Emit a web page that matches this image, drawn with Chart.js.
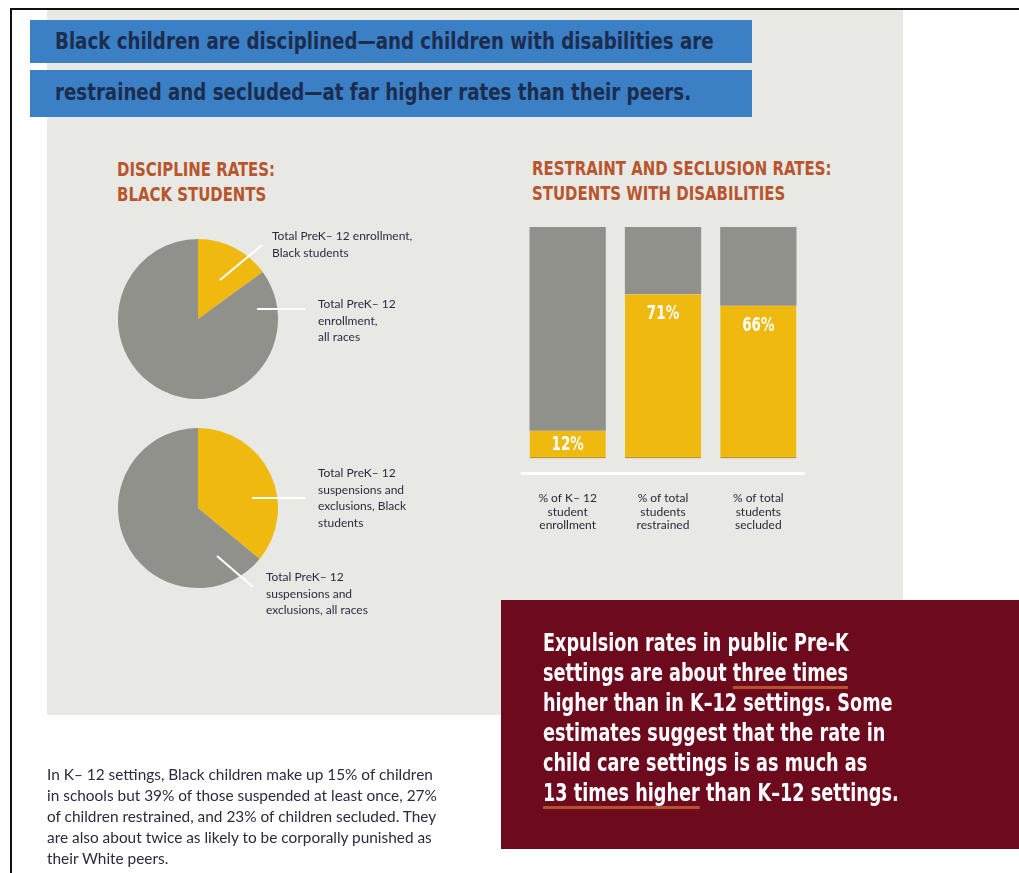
<!DOCTYPE html>
<html>
<head>
<meta charset="utf-8">
<script src="https://cdn.jsdelivr.net/npm/chart.js@4/dist/chart.umd.min.js"></script>
<style>
    body { margin: 0; width: 1019px; height: 873px; overflow: hidden; position: relative; background: #fff; }
    .abs { position: absolute; }
    .narrow { font-family: "Liberation Sans Narrow", "DejaVu Sans Condensed", sans-serif; font-weight: 700; }
    .squeeze { display: inline-block; transform-origin: 0 0; white-space: nowrap; }
    .small { font-family: Lato, "Noto Sans", sans-serif; color: #2c2a3f; }
    .banner { left: 30px; width: 697px; padding-left: 25px; background: #3b7fc4; color: #1b2d4f; font-size: 23px; white-space: nowrap; }
    .heading { color: #b9552c; font-size: 20px; line-height: 25px; white-space: nowrap; }
    .pie-label { font-size: 12px; line-height: 16.5px; white-space: nowrap; }
    .u { text-decoration: underline; text-decoration-color: #b4532b; text-decoration-thickness: 3px; text-underline-offset: 5px; }
</style>
</head>
<body>
<div class="abs" style="left:10px;top:8px;width:1009px;height:2px;background:#111"></div>
<div class="abs" style="left:10px;top:8px;width:2px;height:865px;background:#111"></div>
<div class="abs" style="left:47px;top:10px;width:856px;height:705px;background:#e8e9e5"></div>

<div class="abs narrow banner" style="top:20px;height:43px;line-height:43px"><span class="squeeze" style="transform:scaleX(0.88)">Black children are disciplined—and children with disabilities are</span></div>
<div class="abs narrow banner" style="top:70px;height:47px;line-height:45px"><span class="squeeze" style="transform:scaleX(0.88)">restrained and secluded—at far higher rates than their peers.</span></div>

<div class="abs narrow heading" style="left:117px;top:157px"><span class="squeeze" style="transform:scaleX(0.83)">DISCIPLINE RATES:<br>BLACK STUDENTS</span></div>
<div class="abs narrow heading" style="left:532px;top:156px"><span class="squeeze" style="transform:scaleX(0.83)">RESTRAINT AND SECLUSION RATES:<br>STUDENTS WITH DISABILITIES</span></div>

<canvas id="pie-enrollment" class="abs" width="160" height="160" style="left:118px;top:239px"></canvas>
<canvas id="pie-discipline" class="abs" width="160" height="160" style="left:118px;top:428px"></canvas>
<canvas id="bar-restraint" class="abs" width="320" height="342" style="left:505px;top:215px"></canvas>

<svg class="abs" width="1019" height="873" style="left:0;top:0" stroke="#fff" stroke-width="2">
    <line x1="220" y1="280" x2="262" y2="245"/>
    <line x1="257" y1="309" x2="305" y2="309"/>
    <line x1="252" y1="498" x2="305" y2="498"/>
    <line x1="217" y1="556" x2="253" y2="587"/>
</svg>

<div class="abs small pie-label" style="left:272px;top:228px">Total PreK– 12 enrollment,<br>Black students</div>
<div class="abs small pie-label" style="left:318px;top:296px">Total PreK– 12<br>enrollment,<br>all races</div>
<div class="abs small pie-label" style="left:318px;top:465px">Total PreK– 12<br>suspensions and<br>exclusions, Black<br>students</div>
<div class="abs small pie-label" style="left:266px;top:569px">Total PreK– 12<br>suspensions and<br>exclusions, all races</div>

<div class="abs" style="left:501px;top:600px;width:518px;height:249px;background:#6e0a1e"></div>
<div class="abs narrow" style="left:543px;top:628px;color:#fff;font-size:25px;line-height:30px">
    <span class="squeeze" style="transform:scaleX(0.785)">Expulsion rates in public Pre-K<br>
    settings are about <span class="u">three times</span><br>
    higher than in K–12 settings. Some<br>
    estimates suggest that the rate in<br>
    child care settings is as much as<br>
    <span class="u">13 times higher</span> than K–12 settings.</span>
</div>

<div class="abs small" style="left:47px;top:764px;font-size:15.4px;line-height:21px;white-space:nowrap">
    In K– 12 settings, Black children make up 15% of children<br>
    in schools but 39% of those suspended at least once, 27%<br>
    of children restrained, and 23% of children secluded. They<br>
    are also about twice as likely to be corporally punished as<br>
    their White peers.
</div>

<script>
var colorYellow = '#f0b90f';
var colorGray = '#8f918a';

// pie charts: Black students share vs. all races
var enrollmentLabels = ['Total PreK– 12 enrollment, Black students', 'Total PreK– 12 enrollment, all races'];
var enrollmentValues = [15, 85];
var disciplineLabels = ['Total PreK– 12 suspensions and exclusions, Black students', 'Total PreK– 12 suspensions and exclusions, all races'];
var disciplineValues = [36, 64];

// stacked bars: students with disabilities
var barCategories = [
    ['% of K– 12', 'student', 'enrollment'],
    ['% of total', 'students', 'restrained'],
    ['% of total', 'students', 'secluded']
];
var barShares = [12, 71, 66];
var barRest = [88, 29, 34];
var barValueLabels = ['12%', '71%', '66%'];

function makePie(canvasId, labels, values) {
    return new Chart(document.getElementById(canvasId), {
        type: 'pie',
        data: {
            labels: labels,
            datasets: [{
                data: values,
                backgroundColor: [colorYellow, colorGray],
                borderWidth: 0
            }]
        },
        options: {
            responsive: false,
            animation: false,
            plugins: {
                legend: { display: false },
                tooltip: { enabled: false }
            }
        }
    });
}

var valueLabelPlugin = {
    id: 'valueLabels',
    afterDatasetsDraw(chart) {
        var ctx = chart.ctx;
        var meta = chart.getDatasetMeta(0);
        meta.data.forEach((bar, i) => {
            var h = bar.base - bar.y;
            var y = h < 40 ? bar.y + h / 2 : bar.y + 20;
            ctx.save();
            ctx.translate(bar.x, y);
            ctx.scale(0.75, 1);
            ctx.fillStyle = '#fff';
            ctx.font = 'bold 20px "Liberation Sans Narrow", "DejaVu Sans Condensed", sans-serif';
            ctx.textAlign = 'center';
            ctx.textBaseline = 'middle';
            ctx.fillText(barValueLabels[i], 0, 0);
            ctx.restore();
        });
    }
};

var baseLinePlugin = {
    id: 'baseLine',
    afterDraw(chart) {
        var ctx = chart.ctx;
        var area = chart.chartArea;
        ctx.save();
        ctx.strokeStyle = '#fff';
        ctx.lineWidth = 3;
        ctx.beginPath();
        ctx.moveTo(area.left + 1, area.bottom + 15);
        ctx.lineTo(area.right - 1, area.bottom + 15);
        ctx.stroke();
        ctx.restore();
    }
};

makePie('pie-enrollment', enrollmentLabels, enrollmentValues);
makePie('pie-discipline', disciplineLabels, disciplineValues);

new Chart(document.getElementById('bar-restraint'), {
    type: 'bar',
    data: {
        labels: barCategories,
        datasets: [{
            data: barShares,
            backgroundColor: colorYellow,
            borderColor: '#c4960c',
            borderWidth: { top: 0, left: 0, right: 0, bottom: 2 },
            borderSkipped: false
        }, {
            data: barRest,
            backgroundColor: colorGray,
            borderWidth: 0
        }]
    },
    options: {
        responsive: false,
        animation: false,
        layout: { padding: { left: 15, right: 19, top: 12, bottom: 0 } },
        datasets: { bar: { categoryPercentage: 1, barPercentage: 0.8 } },
        scales: {
            x: {
                stacked: true,
                grid: { display: false },
                border: { display: false },
                ticks: {
                    color: '#2a2838',
                    font: { family: 'Lato', size: 12, lineHeight: 1.125 },
                    padding: 25,
                    maxRotation: 0,
                    autoSkip: false
                }
            },
            y: {
                stacked: true,
                display: false,
                min: 0,
                max: 100
            }
        },
        plugins: {
            legend: { display: false },
            tooltip: { enabled: false }
        }
    },
    plugins: [valueLabelPlugin, baseLinePlugin]
});
</script>
</body>
</html>
